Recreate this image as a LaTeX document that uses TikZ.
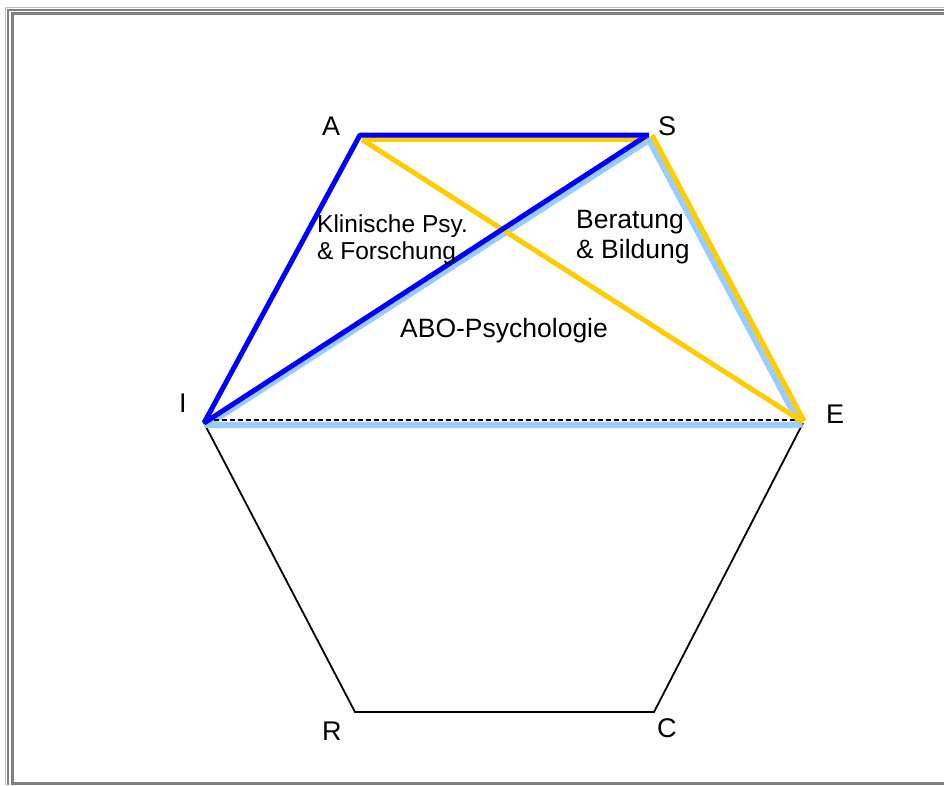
\documentclass[tikz,border=0pt]{standalone}
\usepackage{fontspec}
\setmainfont{Liberation Sans}
\definecolor{cblue}{RGB}{0,0,255}
\definecolor{cgold}{RGB}{255,204,0}
\definecolor{clight}{RGB}{153,204,255}
\definecolor{frameA}{RGB}{192,192,192}
\definecolor{frameB}{RGB}{128,128,128}
\begin{document}
\begin{tikzpicture}[x=1pt,y=-1pt,
  lbl/.style={inner sep=0pt, anchor=base west, font=\fontsize{27}{30}\selectfont},
  area/.style={inner sep=0pt, anchor=base west, align=left},
  blueline/.style={cblue, line width=5pt, line join=round},
  goldline/.style={cgold, line width=5pt, line join=round},
  lightline/.style={clight, line width=6pt, line join=round},
  hexline/.style={black, line width=1.8pt, line join=miter},
  dashline/.style={black, line width=1.4pt, dash pattern=on 5pt off 3pt}]
\useasboundingbox (0,0) rectangle (944,785);
\fill[white] (0,0) rectangle (944,785);
% frame
\draw[frameA, line width=1.5pt] (5.5,785) -- (5.5,7.5) -- (944,7.5);
\draw[frameB, line width=2pt] (7.5,785) -- (7.5,9.5) -- (944,9.5);
\draw[frameB, line width=3pt] (944,13.5) -- (12.5,13.5) -- (12.5,783.5) -- (944,783.5);
% vertices
\coordinate (A) at (360,135);
\coordinate (S) at (649,135);
\coordinate (I) at (204,423);
\coordinate (E) at (803,423);
\coordinate (R) at (355,712);
\coordinate (C) at (654,712);
% lower hexagon
\draw[hexline] (I) -- (R) -- (C) -- (E);
% light blue triangle
\draw[lightline] ([shift={(3,2)}]I) -- ([shift={(0,5)}]S) -- ([shift={(-3,2)}]E) -- cycle;
% dashed
\draw[dashline] ([shift={(10,-3)}]I) -- ([shift={(-5,-3)}]E);
% gold
\draw[goldline] ([shift={(2,4.5)}]A) -- ([shift={(-3,4.5)}]S);
\draw[goldline] ([shift={(2,4.5)}]A) -- ([shift={(0,-1)}]E);
\draw[goldline] ([shift={(3,0)}]S) -- ([shift={(1,-2)}]E);
% blue
\draw[blueline] (I) -- (A) -- (S);
\draw[blueline] (I) -- ([shift={(-3,1)}]S);
% labels
\node[lbl] (lA) at (322,135) {A};
\node[lbl] (lS) at (658,135) {S};
\node[lbl] (lI) at (179,412) {I};
\node[lbl] (lE) at (826,423) {E};
\node[lbl] (lR) at (322,740) {R};
\node[lbl] (lC) at (657,737) {C};
\node[area, font=\fontsize{24.5}{27}\selectfont] (klin) at (317,259) {Klinische Psy.\\\& Forschung};
\node[area, font=\fontsize{26.5}{30}\selectfont] (ber) at (576,258) {Beratung\\\& Bildung};
\node[area, font=\fontsize{26.5}{30}\selectfont] (abo) at (400,337) {ABO-Psychologie};
\end{tikzpicture}
\end{document}
